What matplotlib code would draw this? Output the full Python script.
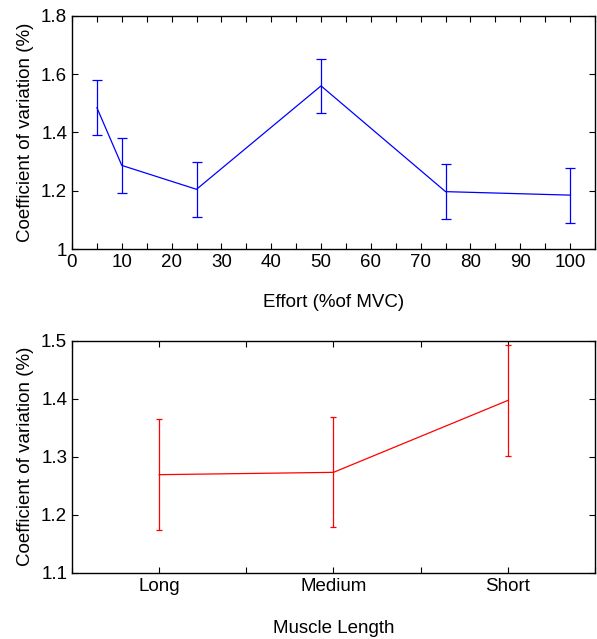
import numpy as np
import matplotlib
matplotlib.use("Agg")
import matplotlib.pyplot as plt
from matplotlib.ticker import MultipleLocator, FuncFormatter

plt.rcParams['font.family'] = ['Liberation Sans', 'DejaVu Sans']

# Panel superior: esfuerzo (% MVC)
esfuerzo = [5, 10, 25, 50, 75, 100]
cv_esfuerzo = [1.485, 1.287, 1.205, 1.560, 1.197, 1.185]
err_esfuerzo = [0.094, 0.093, 0.094, 0.092, 0.094, 0.094]

# Panel inferior: longitud muscular
longitudes = ['Long', 'Medium', 'Short']
cv_longitud = [1.269, 1.273, 1.397]
err_longitud = [0.096, 0.095, 0.095]

fig = plt.figure(figsize=(5.97, 6.39), dpi=100)
ax1 = fig.add_axes([0.1206, 0.6103, 0.876, 0.3647])
ax2 = fig.add_axes([0.1206, 0.1038, 0.876, 0.3630])

fmt = FuncFormatter(lambda v, p: ('%g' % round(v, 2)))

ax1.errorbar(esfuerzo, cv_esfuerzo, yerr=err_esfuerzo, color='#0000ff',
             lw=0.9, elinewidth=0.9, capsize=3.5, capthick=0.9)
ax1.set_xlim(0, 105)
ax1.set_ylim(1, 1.8)
ax1.set_xticks(np.arange(0, 101, 10))
ax1.xaxis.set_minor_locator(MultipleLocator(5))
ax1.set_yticks([1, 1.2, 1.4, 1.6, 1.8])
ax1.yaxis.set_major_formatter(fmt)
ax1.set_xlabel('Effort (%of MVC)', fontsize=13.5, labelpad=17)
ax1.set_ylabel('Coefficient of variation (%)', fontsize=13.5, labelpad=5)

x = np.arange(1, len(longitudes) + 1)
ax2.errorbar(x, cv_longitud, yerr=err_longitud, color='#ff0000',
             lw=0.9, elinewidth=0.9, capsize=2.5, capthick=0.9)
ax2.set_xlim(0.5, 3.5)
ax2.set_ylim(1.1, 1.5)
ax2.set_xticks(x)
ax2.set_xticklabels(longitudes)
ax2.xaxis.set_minor_locator(MultipleLocator(0.5))
ax2.set_yticks([1.1, 1.2, 1.3, 1.4, 1.5])
ax2.yaxis.set_major_formatter(fmt)
ax2.set_xlabel('Muscle Length', fontsize=13.5, labelpad=18)
ax2.set_ylabel('Coefficient of variation (%)', fontsize=13.5, labelpad=5)

for ax in (ax1, ax2):
    for s in ax.spines.values():
        s.set_linewidth(1.0)
    ax.tick_params(which='both', direction='in', top=True, right=True,
                   labelsize=13.5, width=0.8)
    ax.tick_params(which='major', length=4)
    ax.tick_params(which='minor', length=4)

fig.savefig('out.png', dpi=100)
